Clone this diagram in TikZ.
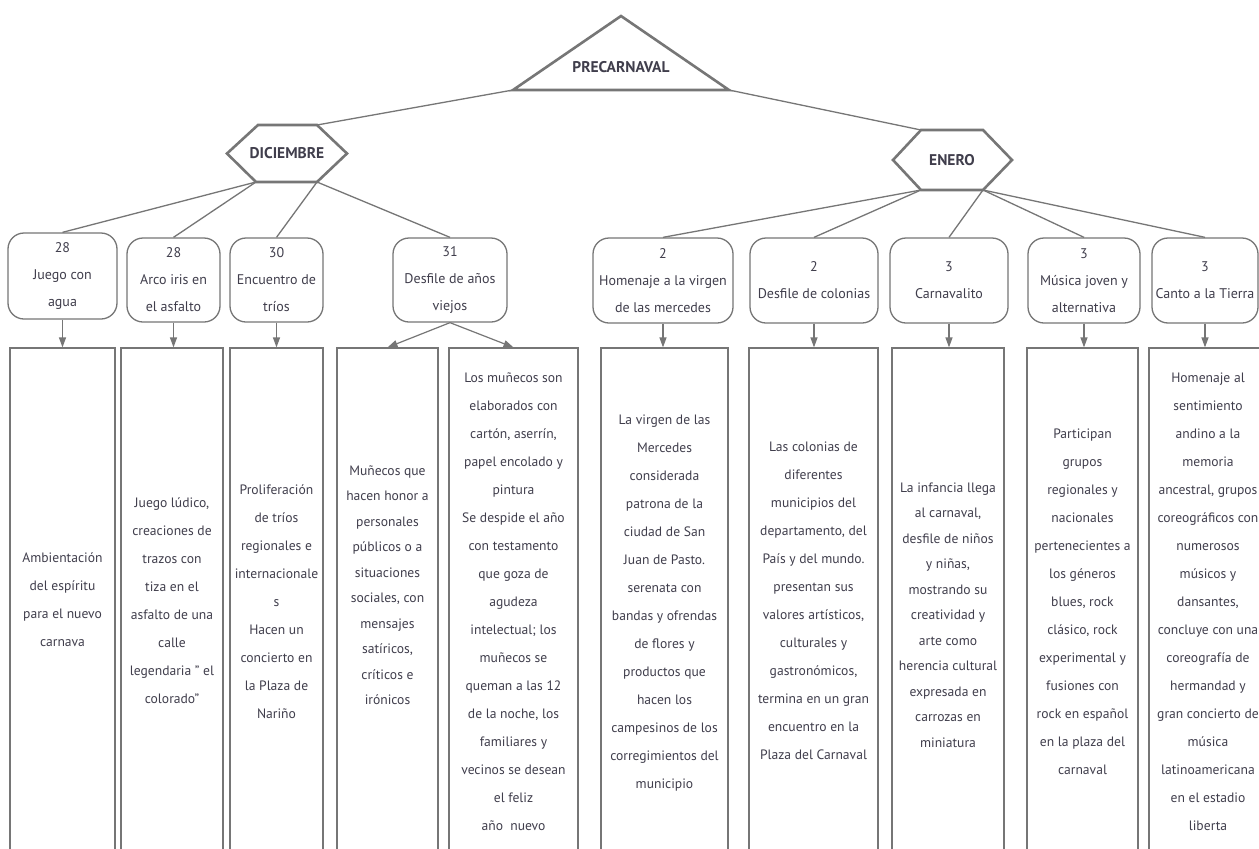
\documentclass[tikz,border=0pt]{standalone}
\usepackage{fontspec}
\setmainfont{PT Sans}
\usetikzlibrary{arrows.meta}
\definecolor{ln}{HTML}{767676}
\definecolor{tx}{HTML}{403E4C}
\tikzset{
 conn/.style={draw=ln, line width=1.3pt},
 arr/.style={draw=ln, line width=1.2pt, -{Triangle[width=7pt,length=10pt]}},
 datebox/.style={draw=ln, line width=1.3pt, rounded corners=16pt, align=center, text=tx, font=\fontsize{14}{27}\selectfont, inner sep=0pt},
 colbox/.style={draw=ln, line width=1.2pt, inner sep=0pt},
 coltext/.style={align=center, text=tx, font=\fontsize{13.6}{28}\selectfont, inner sep=0pt},
 coltextb/.style={coltext, font=\fontsize{13.6}{25.5}\selectfont},
 title/.style={text=tx, font=\fontsize{15.5}{15.5}\selectfont\bfseries, inner sep=0pt},
 shapeline/.style={draw=ln, line width=2.6pt, line join=miter},
}
\begin{document}
\begin{tikzpicture}[x=1pt,y=-1pt]
\useasboundingbox (0,0) rectangle (1259,849);
\clip (0,0) rectangle (1259,849);
\fill[white] (0,0) rectangle (1259,849);

% top triangle
\coordinate (pre-l) at (513,90);
\coordinate (pre-r) at (729,90);
\coordinate (pre-t) at (621,16);
\draw[shapeline] (pre-l) -- (pre-t) -- (pre-r) -- cycle;
\node[title] (pre) at (621,67) {PRECARNAVAL};

% DICIEMBRE hexagon
\coordinate (dic-tl) at (258,125);
\coordinate (dic-tr) at (317,125);
\coordinate (dic-r) at (347,153.5);
\coordinate (dic-br) at (317,182);
\coordinate (dic-bl) at (256,182);
\coordinate (dic-l) at (227,153.5);
\draw[shapeline] (dic-tl) -- (dic-tr) -- (dic-r) -- (dic-br) -- (dic-bl) -- (dic-l) -- cycle;
\node[title] (dic) at (287,153.5) {DICIEMBRE};

% ENERO hexagon
\coordinate (ene-tl) at (921,130);
\coordinate (ene-tr) at (983,130);
\coordinate (ene-r) at (1012,160);
\coordinate (ene-br) at (983,190);
\coordinate (ene-bl) at (921,190);
\coordinate (ene-l) at (893,160);
\draw[shapeline] (ene-tl) -- (ene-tr) -- (ene-r) -- (ene-br) -- (ene-bl) -- (ene-l) -- cycle;
\node[title] (ene) at (952,160) {ENERO};

\draw[conn] (pre-l) -- (dic-tr);
\draw[conn] (pre-r) -- (ene-tl);

% date boxes
\node[datebox, minimum width=109pt, minimum height=86pt] (b1) at (62.5,276) {28\\Juego con\\agua};
\node[datebox, minimum width=93pt, minimum height=84pt] (b2) at (173.5,280) {28\\Arco iris en\\el asfalto};
\node[datebox, minimum width=93pt, minimum height=84pt] (b3) at (276.5,280) {30\\Encuentro de\\tríos};
\node[datebox, minimum width=114pt, minimum height=84pt] (b4) at (450,280) {31\\Desfile de años\\viejos};
\node[datebox, minimum width=140pt, minimum height=85pt] (b5) at (663,280.5) {2\\Homenaje a la virgen\\de las mercedes};
\node[datebox, minimum width=128pt, minimum height=85pt] (b6) at (814,280.5) {2\\Desfile de colonias};
\node[datebox, minimum width=118pt, minimum height=85pt] (b7) at (949,280.5) {3\\Carnavalito};
\node[datebox, minimum width=112pt, minimum height=85pt] (b8) at (1084,280.5) {3\\Música joven y\\alternativa};
\node[datebox, minimum width=106pt, minimum height=85pt] (b9) at (1205,280.5) {3\\Canto a la Tierra};

\draw[conn] (dic-bl) -- (b1.north);
\draw[conn] (dic-bl) -- (b2.north);
\draw[conn] (dic-br) -- (b3.north);
\draw[conn] (dic-br) -- (b4.north);
\draw[conn] (ene-bl) -- (b5.north);
\draw[conn] (ene-bl) -- (b6.north);
\draw[conn] (ene-br) -- (b7.north);
\draw[conn] (ene-br) -- (b8.north);
\draw[conn] (ene-br) -- (b9.north);

% columns (top at 348, running past the lower edge)
\node[colbox, minimum width=105pt, minimum height=510pt] (c1) at (62.5,603) {};
\node[colbox, minimum width=102pt, minimum height=510pt] (c2) at (172,603) {};
\node[colbox, minimum width=93pt, minimum height=510pt] (c3) at (276.5,603) {};
\node[colbox, minimum width=101pt, minimum height=510pt] (c4) at (387.5,603) {};
\node[colbox, minimum width=129pt, minimum height=510pt] (c5) at (513.5,603) {};
\node[colbox, minimum width=127pt, minimum height=510pt] (c6) at (664.5,603) {};
\node[colbox, minimum width=129pt, minimum height=510pt] (c7) at (813.5,603) {};
\node[colbox, minimum width=112pt, minimum height=510pt] (c8) at (948,603) {};
\node[colbox, minimum width=111pt, minimum height=510pt] (c9) at (1082.5,603) {};
\node[colbox, minimum width=118pt, minimum height=510pt] (c10) at (1208,603) {};

\draw[arr] (b1.south) -- (b1.south |- c1.north);
\draw[arr] (b2.south) -- (b2.south |- c2.north);
\draw[arr] (b3.south) -- (b3.south |- c3.north);
\draw[arr] (b4.south) -- (c4.north);
\draw[arr] (b4.south) -- (c5.north);
\draw[arr] (b5.south) -- (b5.south |- c6.north);
\draw[arr] (b6.south) -- (b6.south |- c7.north);
\draw[arr] (b7.south) -- (b7.south |- c8.north);
\draw[arr] (b8.south) -- (b8.south |- c9.north);
\draw[arr] (b9.south) -- (b9.south |- c10.north);

% column texts
\node[coltext] (t1) at (62.5,600) {Ambientación\\del espíritu\\para el nuevo\\carnava};
\node[coltext] (t2) at (172,601) {Juego lúdico,\\creaciones de\\trazos con\\tiza en el\\asfalto de una\\calle\\legendaria " el\\colorado"};
\node[coltext] (t3) at (276.5,602) {Proliferación\\de tríos\\regionales e\\internacionale\\s\\Hacen un\\concierto en\\la Plaza de\\Nariño};
\node[coltextb] (t4) at (387.5,585) {Muñecos que\\hacen honor a\\personales\\públicos o a\\situaciones\\sociales, con\\mensajes\\satíricos,\\críticos e\\irónicos};
\node[coltext] (t5) at (513.5,602) {Los muñecos son\\elaborados con\\cartón, aserrín,\\papel encolado y\\pintura\\Se despide el año\\con testamento\\que goza de\\agudeza\\intelectual; los\\muñecos se\\queman a las 12\\de la noche, los\\familiares y\\vecinos se desean\\el feliz\\año~~nuevo};
\node[coltext] (t6) at (664.5,603) {La virgen de las\\Mercedes\\considerada\\patrona de la\\ciudad de San\\Juan de Pasto.\\serenata con\\bandas y ofrendas\\de flores y\\productos que\\hacen los\\campesinos de los\\corregimientos del\\municipio};
\node[coltext] (t7) at (813.5,601) {Las colonias de\\diferentes\\municipios del\\departamento, del\\País y del mundo.\\presentan sus\\valores artísticos,\\culturales y\\gastronómicos,\\termina en un gran\\encuentro en la\\Plaza del Carnaval};
\node[coltextb] (t8) at (948,615) {La infancia llega\\al carnaval,\\desfile de niños\\y niñas,\\mostrando su\\creatividad y\\arte como\\herencia cultural\\expresada en\\carrozas en\\miniatura};
\node[coltext] (t9) at (1082.5,602) {Participan\\grupos\\regionales y\\nacionales\\pertenecientes a\\los géneros\\blues, rock\\clásico, rock\\experimental y\\fusiones con\\rock en español\\en la plaza del\\carnaval};
\node[coltext] (t10) at (1208,602) {Homenaje al\\sentimiento\\andino a la\\memoria\\ancestral, grupos\\coreográficos con\\numerosos\\músicos y\\dansantes,\\concluye con una\\coreografía de\\hermandad y\\gran concierto de\\música\\latinoamericana\\en el estadio\\liberta};
\end{tikzpicture}
\end{document}
